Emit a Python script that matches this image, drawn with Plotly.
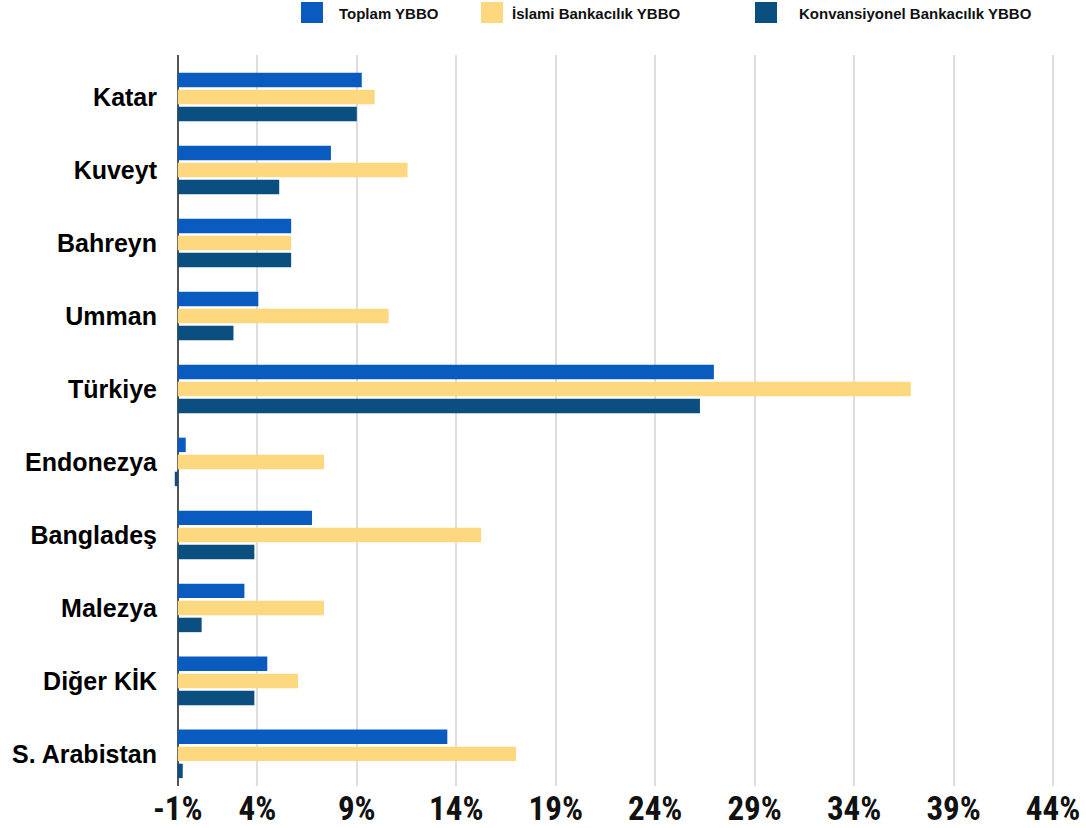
import plotly.graph_objects as go

# Ülkeler (yukarıdan aşağıya)
ulkeler = ["Katar", "Kuveyt", "Bahreyn", "Umman", "Türkiye", "Endonezya",
           "Bangladeş", "Malezya", "Diğer KİK", "S. Arabistan"]

# Yıllık bileşik büyüme oranları (%)
toplam = [9.25, 7.7, 5.7, 4.05, 26.95, 0.4, 6.75, 3.35, 4.5, 13.55]
islami = [9.9, 11.55, 5.7, 10.6, 36.85, 7.35, 15.25, 7.35, 6.05, 17.0]
konvansiyonel = [9.0, 5.1, 5.7, 2.8, 26.25, -0.15, 3.85, 1.2, 3.85, 0.25]

seri_adlari = ["Toplam YBBO", "İslami Bankacılık YBBO", "Konvansiyonel Bankacılık YBBO"]
seri_renkleri = ["#0A5BC0", "#FDD87E", "#0B4E80"]

# Eksen işaretleri
tick_degerleri = [0, 4, 9, 14, 19, 24, 29, 34, 39, 44]
tick_etiketleri = ["-1%", "4%", "9%", "14%", "19%", "24%", "29%", "34%", "39%", "44%"]

W, H = 1086, 828
L, R, T, B = 172, 26, 55, 42

fig = go.Figure()
for ad, renk, degerler in zip(seri_adlari, seri_renkleri, [toplam, islami, konvansiyonel]):
    fig.add_trace(go.Bar(
        y=ulkeler, x=degerler, name=ad, orientation="h",
        marker=dict(color=renk, line=dict(width=0)),
        showlegend=False,
    ))

# Üst kısımdaki lejant: renkli kareler ve etiketler
plot_w = W - L - R
plot_h = H - T - B
kare_x = [301, 481, 755]
metin_x = [337, 510, 797]
def px_to_paper_x(px):
    return (px - L) / plot_w
def px_to_paper_y(py):
    return (H - B - py) / plot_h

for kx, mx, ad, renk in zip(kare_x, metin_x, seri_adlari, seri_renkleri):
    fig.add_shape(type="rect", xref="paper", yref="paper",
                  x0=px_to_paper_x(kx), x1=px_to_paper_x(kx + 22),
                  y0=px_to_paper_y(23), y1=px_to_paper_y(2),
                  fillcolor=renk, line=dict(width=0))
    fig.add_annotation(xref="paper", yref="paper",
                       x=px_to_paper_x(mx), y=px_to_paper_y(13),
                       xanchor="left", yanchor="middle", showarrow=False,
                       text=ad,
                       font=dict(family="Liberation Sans, Arial, sans-serif",
                                 size=15, color="#111111", weight="bold"))

fig.update_layout(
    width=W, height=H,
    margin=dict(l=L, r=R, t=T, b=B, pad=0, autoexpand=False),
    paper_bgcolor="white", plot_bgcolor="white",
    barmode="group", bargap=0.3, bargroupgap=0.15,
    showlegend=False,
)
fig.update_xaxes(
    automargin=False,
    range=[-0.29, 44.35],
    tickmode="array", tickvals=tick_degerleri, ticktext=tick_etiketleri,
    showgrid=True, gridcolor="#DEDEDE", gridwidth=1.5,
    zeroline=True, zerolinecolor="#555555", zerolinewidth=2,
    showline=False, ticks="",
    tickfont=dict(family="Liberation Sans Narrow, Roboto Condensed, DejaVu Sans Condensed, Arial Narrow, sans-serif",
                  size=33, color="#111111", weight="bold"),
    ticklabelstandoff=0,
)
fig.update_yaxes(
    automargin=False,
    range=[9.44, -0.575],
    showgrid=False, zeroline=False, showline=False, ticks="",
    tickfont=dict(family="Liberation Sans, Arial, sans-serif",
                  size=25, color="#000000", weight="bold"),
    ticklabelstandoff=14,
)

fig.write_html("out.html")
